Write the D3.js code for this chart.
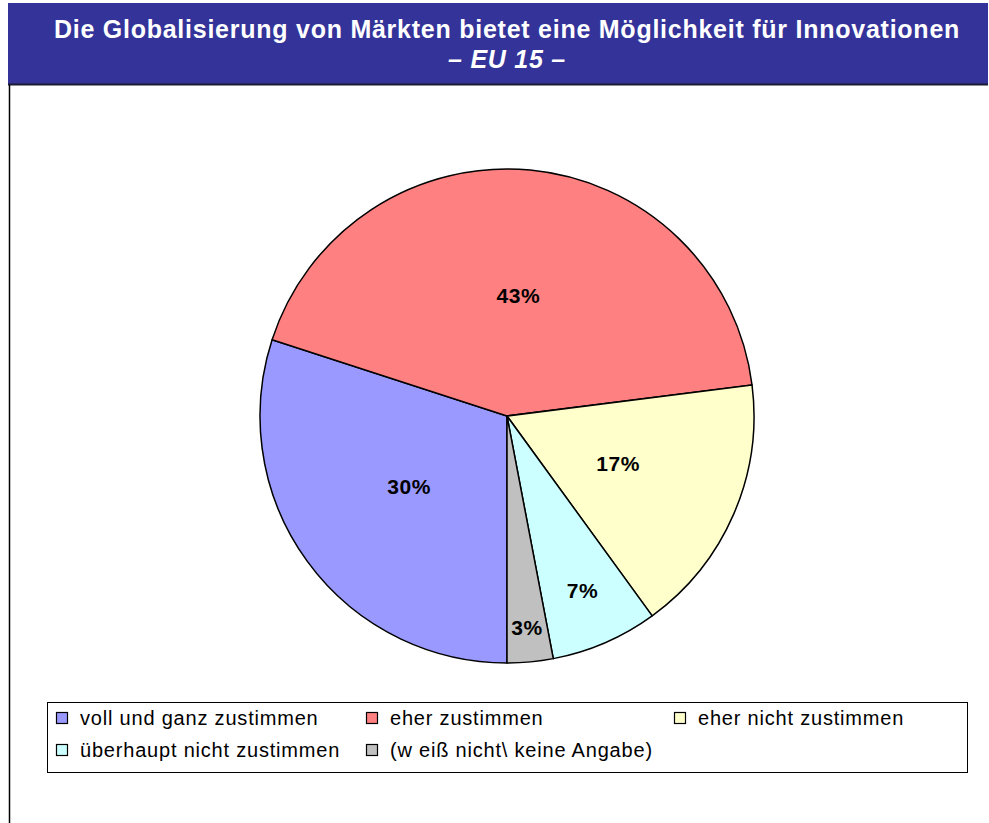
<!DOCTYPE html>
<html>
<head>
<meta charset="utf-8">
<script src="https://cdn.jsdelivr.net/npm/d3@7"></script>
<style>
  body { margin: 0; background: #fff; }
  svg { display: block; font-family: "Liberation Sans", Arial, sans-serif; }
</style>
</head>
<body>
<svg id="chart"></svg>
<script>
const categories = [
  "voll und ganz zustimmen",
  "eher zustimmen",
  "eher nicht zustimmen",
  "überhaupt nicht zustimmen",
  "(w eiß nicht\\ keine Angabe)"
];
const values = [30, 43, 17, 7, 3];
const colors = ["#9999FF", "#FF8080", "#FFFFCC", "#CCFFFF", "#C0C0C0"];

const size = { width: 989, height: 823 };
const svg = d3.select("#chart").attr("width", size.width).attr("height", size.height);

// title bar
svg.append("rect")
  .attr("x", 8).attr("y", 3)
  .attr("width", size.width - 9).attr("height", 81)
  .attr("fill", "#333399");
svg.append("line")
  .attr("x1", 8).attr("x2", size.width - 1)
  .attr("y1", 84.5).attr("y2", 84.5)
  .attr("stroke", "#1a1a33").attr("stroke-width", 2);
svg.append("line")
  .attr("x1", 9.5).attr("x2", 9.5)
  .attr("y1", 85).attr("y2", size.height)
  .attr("stroke", "#000").attr("stroke-width", 1.5);

svg.append("text")
  .attr("x", 507).attr("y", 38)
  .attr("text-anchor", "middle")
  .attr("fill", "#fff").attr("font-size", 25).attr("font-weight", "bold")
  .attr("letter-spacing", 0.75)
  .text("Die Globalisierung von Märkten bietet eine Möglichkeit für Innovationen");
svg.append("text")
  .attr("x", 507).attr("y", 68)
  .attr("text-anchor", "middle")
  .attr("fill", "#fff").attr("font-size", 25).attr("font-weight", "bold")
  .attr("font-style", "italic")
  .attr("letter-spacing", 0.75)
  .text("– EU 15 –");

// pie
const cx = 507, cy = 416, R = 247;
const pie = d3.pie().sort(null).startAngle(Math.PI).endAngle(3 * Math.PI);
const arcs = pie(values);
const arc = d3.arc().innerRadius(0).outerRadius(R);

const g = svg.append("g").attr("transform", `translate(${cx},${cy})`);
g.selectAll("path")
  .data(arcs)
  .enter()
  .append("path")
  .attr("d", arc)
  .attr("fill", (d, i) => colors[i])
  .attr("stroke", "#000")
  .attr("stroke-width", 1.5)
  .attr("stroke-linejoin", "round");

const labelFrac = (v) => (v >= 10 ? 0.49 : v >= 5 ? 0.77 : 0.86);
g.selectAll("text")
  .data(arcs)
  .enter()
  .append("text")
  .attr("transform", (d) => {
    const a = (d.startAngle + d.endAngle) / 2;
    const r = R * labelFrac(d.value);
    return `translate(${r * Math.sin(a)},${-r * Math.cos(a)})`;
  })
  .attr("text-anchor", "middle")
  .attr("dy", "0.35em")
  .attr("font-size", 21)
  .attr("font-weight", "bold")
  .attr("letter-spacing", 0.5)
  .attr("fill", "#000")
  .text((d) => d.value + "%");

// legend
svg.append("rect")
  .attr("x", 47.5).attr("y", 702.5)
  .attr("width", 920).attr("height", 70)
  .attr("fill", "#fff").attr("stroke", "#000").attr("stroke-width", 1);

const colX = [62, 372, 680];
const rowY = [718, 750];
const legend = svg.append("g");
categories.forEach((c, i) => {
  const x = colX[i % 3], y = rowY[Math.floor(i / 3)];
  legend.append("rect")
    .attr("x", x - 5.5).attr("y", y - 5.5)
    .attr("width", 11).attr("height", 11)
    .attr("fill", colors[i]).attr("stroke", "#000").attr("stroke-width", 1.2);
  legend.append("text")
    .attr("x", x + 18).attr("y", y)
    .attr("dy", "0.35em")
    .attr("font-size", 20)
    .attr("letter-spacing", 0.8)
    .attr("fill", "#000")
    .text(c);
});
</script>
</body>
</html>
